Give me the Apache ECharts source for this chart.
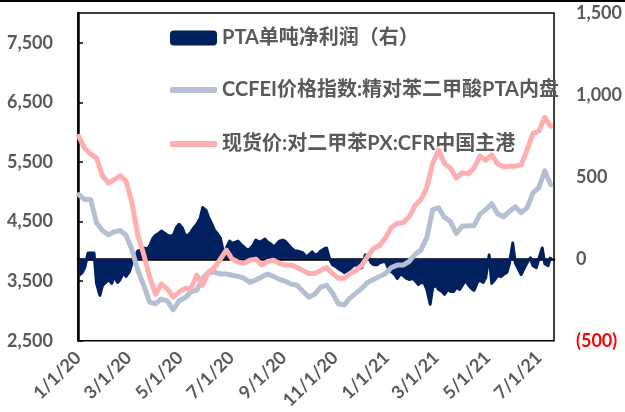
<!DOCTYPE html>
<html><head><meta charset="utf-8">
<script src="https://cdn.jsdelivr.net/npm/echarts@6/dist/echarts.min.js"></script>
<style>html,body{margin:0;padding:0;background:#fff}#c{width:625px;height:412px}</style>
</head><body><div id="c"></div>
<script>
const seriesNames = ['PTA单吨净利润（右）', 'CCFEI价格指数:精对苯二甲酸PTA内盘', '现货价:对二甲苯PX:CFR中国主港'];
// weekly (Thursday) dates for all three series
const dates = ['2020-01-02','2020-01-09','2020-01-16','2020-01-23','2020-01-30','2020-02-06','2020-02-13','2020-02-20','2020-02-27','2020-03-05','2020-03-12','2020-03-19','2020-03-26','2020-04-02','2020-04-09','2020-04-16','2020-04-23','2020-04-30','2020-05-07','2020-05-14','2020-05-21','2020-05-28','2020-06-04','2020-06-11','2020-06-18','2020-06-25','2020-07-02','2020-07-09','2020-07-16','2020-07-23','2020-07-30','2020-08-06','2020-08-13','2020-08-20','2020-08-27','2020-09-03','2020-09-10','2020-09-17','2020-09-24','2020-10-01','2020-10-08','2020-10-15','2020-10-22','2020-10-29','2020-11-05','2020-11-12','2020-11-19','2020-11-26','2020-12-03','2020-12-10','2020-12-17','2020-12-24','2020-12-31','2021-01-07','2021-01-14','2021-01-21','2021-01-28','2021-02-04','2021-02-11','2021-02-18','2021-02-25','2021-03-04','2021-03-11','2021-03-18','2021-03-25','2021-04-01','2021-04-08','2021-04-15','2021-04-22','2021-04-29','2021-05-06','2021-05-13','2021-05-20','2021-05-27','2021-06-03','2021-06-10','2021-06-17','2021-06-24','2021-07-01','2021-07-08','2021-07-15'];
// extra Monday readings for the (spiky) profit series
const mondayDates = ['2020-01-06','2020-01-13','2020-01-20','2020-01-27','2020-02-03','2020-02-10','2020-02-17','2020-02-24','2020-03-02','2020-03-09',
  '2020-03-16','2020-03-23','2020-03-30','2020-04-06','2020-04-13','2020-04-20','2020-04-27','2020-05-04','2020-05-11','2020-05-18',
  '2020-05-25','2020-06-01','2020-06-08','2020-06-15','2020-06-22','2020-06-29','2020-07-06','2020-07-13','2020-07-20','2020-07-27',
  '2020-08-03','2020-08-10','2020-08-17','2020-08-24','2020-08-31','2020-09-07','2020-09-14','2020-09-21','2020-09-28','2020-10-05',
  '2020-10-12','2020-10-19','2020-10-26','2020-11-02','2020-11-09','2020-11-16','2020-11-23','2020-11-30','2020-12-07','2020-12-14',
  '2020-12-21','2020-12-28','2021-01-04','2021-01-11','2021-01-18','2021-01-25','2021-02-01','2021-02-08','2021-02-15','2021-02-22',
  '2021-03-01','2021-03-08','2021-03-15','2021-03-22','2021-03-29','2021-04-05','2021-04-12','2021-04-19','2021-04-26','2021-05-03',
  '2021-05-10','2021-05-17','2021-05-24','2021-05-31','2021-06-07','2021-06-14','2021-06-21','2021-06-28','2021-07-05','2021-07-12'];
const profitThu = [-102,-54,36,-150,-163,-126,-108,-126,-108,-30,
  48,66,78,144,169,144,144,211,144,163,
  211,313,253,175,126,66,96,108,72,60,
  114,108,102,72,108,108,66,48,36,24,
  24,48,66,-36,-60,-84,-60,-36,-54,18,
  -36,-24,-18,-78,-120,-102,-126,-132,-144,-187,
  -175,-187,-217,-199,-175,-163,-157,-193,-132,-114,
  -150,-102,-96,-30,-24,-96,-24,-42,0,-30,
  12];
const profitMon = [-84,36,36,-223,-144,-150,-144,-84,-78,18,
  54,60,126,156,156,138,193,187,144,193,
  247,295,211,150,30,108,102,84,54,84,
  102,120,90,90,114,84,48,42,12,42,
  30,60,-6,-48,-72,-72,-42,-60,24,-24,
  -36,-18,-66,-96,-90,-120,-120,-157,-150,-277,
  -163,-199,-187,-199,-187,-132,-181,-144,-144,24,
  -126,-108,-84,96,-66,-54,6,-54,66,-42];
const ccfeiPTA = [4950,4870,4870,4480,4350,4280,4330,4350,4270,4030,
  3680,3430,3150,3120,3200,3170,3020,3170,3220,3320,
  3350,3550,3650,3650,3620,3620,3600,3580,3550,3480,
  3520,3570,3620,3580,3530,3500,3450,3430,3330,3230,
  3280,3400,3430,3300,3120,3100,3220,3300,3380,3480,
  3530,3580,3630,3730,3770,3770,3830,3950,4020,4230,
  4700,4730,4570,4500,4300,4420,4430,4430,4620,4700,
  4800,4630,4580,4670,4750,4650,4730,4980,5070,5350,
  5120];
const pxCFR = [5930,5730,5630,5570,5270,5150,5200,5270,5180,4820,
  4270,3950,3570,3280,3450,3370,3230,3320,3380,3370,
  3600,3430,3650,3730,3870,4020,3870,3820,3800,3850,
  3870,3770,3830,3850,3800,3770,3770,3730,3680,3630,
  3630,3680,3730,3630,3550,3550,3630,3680,3770,3920,
  4050,4100,4230,4400,4470,4480,4580,4770,4870,5070,
  5480,5700,5470,5400,5230,5320,5300,5400,5600,5530,
  5620,5470,5420,5430,5430,5450,5700,5980,6020,6250,
  6100];
const xTickDates = ['2020-01-01','2020-03-01','2020-05-01','2020-07-01','2020-09-01','2020-11-01','2021-01-01','2021-03-01','2021-05-01','2021-07-01'];
const xRange = ['2020-01-01', '2021-07-19'];
const leftRange = [2500, 8000, 1000];
const rightRange = [-500, 1500, 500];

function toTs(s) { const p = s.split('-').map(Number); return new Date(p[0], p[1] - 1, p[2]).getTime(); }
function fmt(v) { return Math.abs(v).toLocaleString('en-US'); }
const FONT = 'Lato, "Noto Sans CJK SC", sans-serif';
const GREY = '#595959';
const C_DARK = '#002060', C_GRAY = '#B4C0D2', C_PINK = '#FFAFAF';
const tickText = { color: GREY, fontFamily: FONT, fontWeight: 'bold', fontSize: 18 };
const legText = { color: GREY, fontFamily: FONT, fontWeight: 'bold', fontSize: 20 };

const chart = echarts.init(document.getElementById('c'), null, { renderer: 'canvas' });
const pairs = (ds, arr) => ds.map((d, i) => [toTs(d), arr[i]]);
const profitData = pairs(dates, profitThu).concat(pairs(mondayDates, profitMon)).sort((a, b) => a[0] - b[0]);
chart.setOption({
  animation: false,
  backgroundColor: '#fff',
  grid: { left: 78, right: 62, top: 13, bottom: 68, show: true, borderColor: '#000', borderWidth: 1.5 },
  legend: [
    { data: [{ name: seriesNames[0], icon: 'roundRect' }], left: 170, top: 28, padding: 0, itemWidth: 47, itemHeight: 15, itemStyle: { borderWidth: 0 }, textStyle: legText },
    { data: [{ name: seriesNames[1], icon: 'roundRect' }], left: 170, top: 80, padding: 0, itemWidth: 47, itemHeight: 6, itemStyle: { borderWidth: 0 }, textStyle: legText },
    { data: [{ name: seriesNames[2], icon: 'roundRect' }], left: 170, top: 134, padding: 0, itemWidth: 47, itemHeight: 6, itemStyle: { borderWidth: 0 }, textStyle: legText }
  ],
  xAxis: {
    type: 'value', min: toTs(xRange[0]), max: toTs(xRange[1]),
    axisLine: { show: true, lineStyle: { color: '#000', width: 2.5 } },
    axisTick: { show: false }, splitLine: { show: false },
    axisLabel: Object.assign({
      customValues: xTickDates.map(toTs), rotate: 45, margin: 14, hideOverlap: false,
      formatter: v => { const d = new Date(v); return (d.getMonth() + 1) + '/' + d.getDate() + '/' + String(d.getFullYear()).slice(2); }
    }, tickText)
  },
  yAxis: [
    {
      type: 'value', min: leftRange[0], max: leftRange[1], interval: leftRange[2], position: 'left',
      axisLine: { show: true, lineStyle: { color: '#000', width: 2.5 } },
      axisTick: { show: true, inside: true, length: 5, lineStyle: { color: '#000', width: 1.5 } },
      splitLine: { show: false },
      axisLabel: Object.assign({ showMaxLabel: false, margin: 25, formatter: v => fmt(v) }, tickText)
    },
    {
      type: 'value', min: rightRange[0], max: rightRange[1], interval: rightRange[2], position: 'right',
      axisLine: { show: false }, axisTick: { show: false }, splitLine: { show: false },
      axisLabel: Object.assign({}, tickText, { margin: 22, formatter: v => v < 0 ? '(' + fmt(v) + ')' : fmt(v), color: v => (Number(v) < 0 ? '#FF0000' : GREY) })
    }
  ],
  series: [
    { name: seriesNames[0], type: 'line', yAxisIndex: 1, data: profitData, symbol: 'none', z: 1,
      lineStyle: { color: C_DARK, width: 3, join: 'round' }, itemStyle: { color: C_DARK },
      areaStyle: { color: C_DARK, opacity: 1 } },
    { name: seriesNames[1], type: 'line', yAxisIndex: 0, data: pairs(dates, ccfeiPTA), symbol: 'none', z: 2,
      lineStyle: { color: C_GRAY, width: 5, cap: 'round', join: 'round' }, itemStyle: { color: C_GRAY } },
    { name: seriesNames[2], type: 'line', yAxisIndex: 0, data: pairs(dates, pxCFR), symbol: 'none', z: 3,
      lineStyle: { color: C_PINK, width: 5, cap: 'round', join: 'round' }, itemStyle: { color: C_PINK } }
  ],
  graphic: [{ type: 'line', shape: { x1: 0, y1: 1, x2: 625, y2: 1 }, style: { stroke: '#000', lineWidth: 2 } }]
});
</script></body></html>
